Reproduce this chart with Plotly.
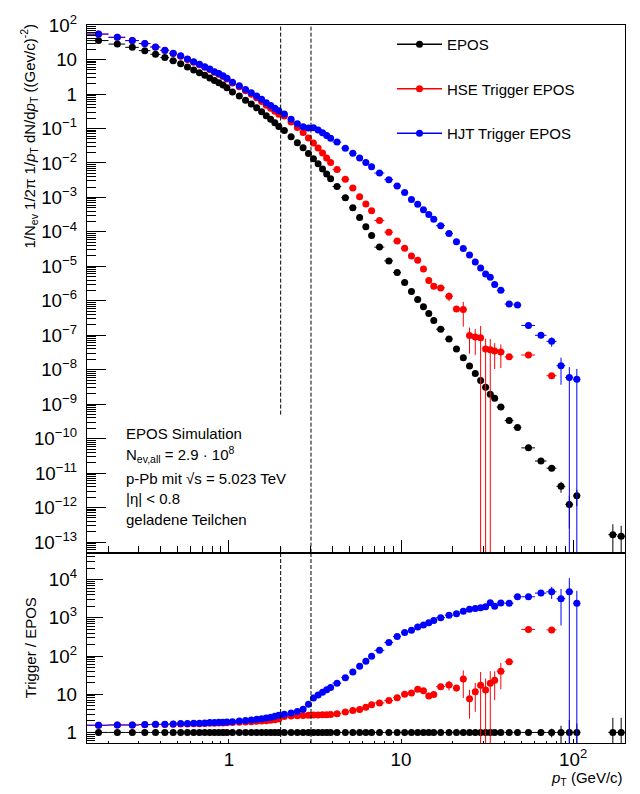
import numpy as np
import plotly.graph_objects as go

# pT binning (GeV/c)
pt_edges = [0.15, 0.2, 0.25, 0.3, 0.35, 0.4, 0.45, 0.5, 0.55, 0.6, 0.65, 0.7, 0.75, 0.8, 0.85, 0.9, 0.95, 1.0,
            1.1, 1.2, 1.3, 1.4, 1.5, 1.6, 1.7, 1.8, 1.9, 2.0,
            2.2, 2.4, 2.6, 2.8, 3.0, 3.2, 3.4, 3.6, 3.8, 4.0,
            4.5, 5.0, 5.5, 6.0, 6.5, 7.0,
            8.0, 9.0, 10.0, 11.0, 12.0, 13.0, 14.0, 15.0, 16.0,
            18.0, 20.0, 22.0, 24.0, 26.0, 28.0, 30.0, 32.0, 34.0, 36.0,
            40.0, 45.0, 50.0,
            60.0, 70.0, 80.0, 90.0, 100.0, 110.0, 120.0, 130.0, 140.0, 150.0, 160.0,
            180.0, 200.0]

# minimum-bias EPOS spectrum 1/Nev 1/2pi 1/pT dN/dpT
epos_yield = [35.5, 28.1, 22.6, 18.1, 14.2, 11.4, 9.16, 7.52, 6.04, 4.97, 4.16, 3.48, 2.93, 2.45, 2.11, 1.82, 1.52,
              1.15, 0.873, 0.664, 0.515, 0.396, 0.305, 0.234, 0.184, 0.146, 0.115,
              0.0871, 0.0575, 0.0388, 0.0274, 0.0188, 0.0132, 9.44e-3, 6.68e-3, 4.81e-3, 3.46e-3,
              2.07e-3, 9.82e-4, 5.02e-4, 2.60e-4, 1.41e-4, 7.80e-5,
              3.61e-5, 1.44e-5, 6.64e-6, 3.37e-6, 1.85e-6, 1.10e-6, 6.76e-7, 4.30e-7, 2.70e-7,
              1.50e-7, 7.74e-8, 4.01e-8, 2.22e-8, 1.28e-8, 7.74e-9, 4.88e-9, 3.08e-9, 1.94e-9, 1.49e-9,
              8.24e-10, 3.35e-10, 2.11e-10,
              5.41e-11, 2.25e-11, 1.39e-11, 4.14e-12, 1.24e-12, 2.20e-12, None, None, None, None, None,
              1.64e-13, 1.48e-13]

# triggered / minimum-bias ratios
hse_ratio = [1.55, 1.57, 1.57, 1.60, 1.61, 1.61, 1.64, 1.67, 1.67, 1.69, 1.69, 1.71, 1.74, 1.74, 1.76, 1.77, 1.79,
             1.81, 1.85, 1.87, 1.91, 1.95, 1.99, 2.03, 2.09, 2.16, 2.25,
             2.63, 2.69, 2.74, 2.79, 2.80, 2.85, 2.85, 2.90, 2.91, 2.97,
             3.09, 3.41, 3.76, 3.99, 4.58, 5.27,
             5.94, 6.82, 8.15, 9.93, 10.8, 13.6, 12.4, 9.02, 9.77,
             15.8, 17.5, 14.5, 25.1, 7.67, 11.6, 17.3, 12.9, 19.5, 23.4,
             39.8, 70.5, None,
             495, None, 483, None, None, None, None, None, None, None, None,
             None, None]

hjt_ratio = [1.54, 1.57, 1.57, 1.61, 1.64, 1.64, 1.67, 1.71, 1.71, 1.74, 1.74, 1.77, 1.81, 1.81, 1.85, 1.85, 1.88,
             1.92, 2.00, 2.04, 2.12, 2.20, 2.30, 2.38, 2.51, 2.66, 2.83,
             3.01, 3.21, 3.55, 4.06, 5.47, 8.0, 9.57, 11.2, 13.1, 15.0,
             19.5, 27.2, 38.2, 53.6, 73.5, 98.9,
             141, 227, 324, 411, 472, 577, 650, 745, 855,
             1010, 1160, 1280, 1490, 1680, 1740, 1820, 1960, 2490, 2000,
             2440, 2400, 3560,
             3560, 4430, 4790, 3160, 4790, 2400, None, None, None, None, None,
             None, None]

# relative statistical uncertainties of the spectra
epos_relerr = [0.002] * 17 + [0.002] * 10 + [0.003] * 10 + [0.005] * 6 + \
              [0.008, 0.01, 0.01, 0.012, 0.013, 0.015, 0.016, 0.018, 0.02] + \
              [0.022, 0.025, 0.028, 0.03, 0.033, 0.036, 0.04, 0.042, 0.045, 0.048] + \
              [0.05, 0.07, 0.08] + \
              [0.1, 0.12, 0.18, 0.35, 0.8, 0.5, None, None, None, None, None] + [1.0, 1.0]

hse_relerr = [0.003] * 17 + [0.003] * 10 + [0.005] * 10 + [0.01] * 6 + \
             [0.015, 0.02, 0.03, 0.04, 0.05, 0.06, 0.15, 0.17, 0.1] + \
             [0.12, 0.28, 0.18, 0.68, 0.7, 0.7, 1.2, 1.0, 1.05, 0.7] + \
             [0.66, None, 0.42] + \
             [None, 0.68, None, None, None, None, None, None, None, None, None] + [None, None]

hjt_relerr = [0.002] * 17 + [0.002] * 10 + [0.003] * 10 + [0.005] * 6 + \
             [0.006, 0.007, 0.008, 0.009, 0.01, 0.011, 0.012, 0.013, 0.015] + \
             [0.017, 0.02, 0.022, 0.025, 0.03, 0.032, 0.035, 0.04, 0.045, 0.05] + \
             [0.05, 0.06, 0.06] + \
             [0.08, 0.12, 0.3, 0.72, 1.0, 1.0, None, None, None, None, None] + [None, None]

series_names = ["EPOS", "HSE Trigger EPOS", "HJT Trigger EPOS"]
series_colors = ["#000000", "#ff0000", "#0000ff"]

cut_values = [2.0, 3.0]
cut_low_end = 5e-10

info_lines = ["EPOS Simulation",
              "N<sub>ev,all</sub> = 2.9 · 10<sup>8</sup>",
              "p-Pb mit √s = 5.023 TeV",
              "|η| < 0.8",
              "geladene Teilchen"]
info_rows_px = [428.7, 450, 475.3, 495.3, 516.3]


def as_array(values):
    return np.array([np.nan if v is None else v for v in values], dtype=float)


edges = np.array(pt_edges)
pt = 0.5 * (edges[1:] + edges[:-1])
half_width = 0.5 * (edges[1:] - edges[:-1])

epos = as_array(epos_yield)
r_hse = as_array(hse_ratio)
r_hjt = as_array(hjt_ratio)
e_epos = as_array(epos_relerr)
e_hse = as_array(hse_relerr)
e_hjt = as_array(hjt_relerr)

spectra = [epos, epos * r_hse, epos * r_hjt]
spec_rel = [e_epos, e_hse, e_hjt]
ratios = [epos / epos, r_hse, r_hjt]

FONT = "Liberation Sans, Arial, sans-serif"
fig = go.Figure()

for name, color, spec, rel, ratio in zip(series_names, series_colors, spectra, spec_rel, ratios):
    marker = dict(color=color, size=7, line=dict(width=0))
    ex = dict(type="data", array=half_width, color=color, thickness=1, width=0)
    fig.add_trace(go.Scatter(
        x=pt, y=spec, mode="markers", marker=marker, showlegend=False,
        error_x=ex,
        error_y=dict(type="data", array=spec * rel, color=color, thickness=1, width=0),
        xaxis="x", yaxis="y", name=name))
    ratio_rel = np.sqrt(rel ** 2 + e_epos ** 2)
    fig.add_trace(go.Scatter(
        x=pt, y=ratio, mode="markers", marker=marker, showlegend=False,
        error_x=ex,
        error_y=dict(type="data", array=ratio * ratio_rel, color=color, thickness=1, width=0),
        xaxis="x2", yaxis="y2", name=name))

for name, color in zip(series_names, series_colors):
    fig.add_trace(go.Scatter(
        x=[None], y=[None], mode="lines+markers", name=name, legendgroup=name,
        line=dict(color=color, width=1.5), marker=dict(color=color, size=7),
        xaxis="x", yaxis="y"))

split = (743 - 550) / 728
xrange = [np.log10(pt_edges[0]), np.log10(pt_edges[-1])]
tickfont = dict(family=FONT, size=15, color="black")

common_x = dict(type="log", range=xrange, showgrid=False, zeroline=False, showline=True,
                linecolor="black", linewidth=1, mirror=True, dtick=1, tickcolor="black")
fig.update_layout(
    xaxis=dict(common_x, anchor="y", ticks="inside", ticklen=13, showticklabels=False,
               minor=dict(ticks="inside", ticklen=7, dtick="D1", tickcolor="black", showgrid=False)),
    yaxis=dict(type="log", domain=[split, 1], range=[-13.307, 2.002], dtick=1, showgrid=False,
               zeroline=False, showline=True, linecolor="black", linewidth=1, mirror=True,
               ticks="inside", ticklen=19, tickcolor="black", exponentformat="power",
               tickfont=tickfont, ticklabelstandoff=6,
               minor=dict(ticks="inside", ticklen=9, dtick="D1", tickcolor="black", showgrid=False)),
    xaxis2=dict(common_x, anchor="y2", ticks="inside", ticklen=4, exponentformat="power",
                tickfont=tickfont, ticklabelstandoff=0,
                minor=dict(ticks="inside", ticklen=2, dtick="D1", tickcolor="black", showgrid=False)),
    yaxis2=dict(type="log", domain=[0, split], range=[-0.276, 4.705], dtick=1, showgrid=False,
                zeroline=False, showline=True, linecolor="black", linewidth=1, mirror=True,
                ticks="inside", ticklen=16, tickcolor="black", exponentformat="power",
                tickfont=tickfont, ticklabelstandoff=6,
                minor=dict(ticks="inside", ticklen=8, dtick="D1", tickcolor="black", showgrid=False)),
)

dash = dict(color="black", width=1, dash="4px,2px")
shapes = [
    dict(type="line", xref="x", yref="y", x0=cut_values[0], x1=cut_values[0], y0=cut_low_end, y1=10 ** 2.002, line=dash),
    dict(type="line", xref="x", yref="y domain", x0=cut_values[1], x1=cut_values[1], y0=0, y1=1, line=dash),
    dict(type="line", xref="x2", yref="y2 domain", x0=cut_values[0], x1=cut_values[0], y0=0, y1=1.036, line=dash),
    dict(type="line", xref="x2", yref="y2 domain", x0=cut_values[1], x1=cut_values[1], y0=0, y1=1, line=dash),
]

annotations = [
    dict(text="1/N<sub>ev</sub> 1/2π 1/<i>p</i><sub>T</sub> dN/d<i>p</i><sub>T</sub> ((Gev/c)<sup>-2</sup>)",
         xref="paper", yref="paper", x=(29 - 87) / 538, y=(743 - 12) / 728, xanchor="center", yanchor="top",
         textangle=-90, showarrow=False, font=dict(family=FONT, size=15, color="black")),
    dict(text="Trigger / EPOS", xref="paper", yref="paper", x=(30 - 87) / 538, y=(743 - 647) / 728,
         xanchor="center", yanchor="middle", textangle=-90, showarrow=False,
         font=dict(family=FONT, size=15, color="black")),
    dict(text="<i>p</i><sub>T</sub> (GeV/c)", xref="paper", yref="paper", x=1, y=(743 - 779) / 728,
         xanchor="right", yanchor="middle", showarrow=False, font=dict(family=FONT, size=15, color="black")),
]
for line, ypix in zip(info_lines, info_rows_px):
    annotations.append(dict(text=line, xref="paper", yref="paper", x=(124 - 87) / 538, y=(743 - ypix) / 728,
                            xanchor="left", yanchor="middle", showarrow=False,
                            font=dict(family=FONT, size=15, color="black")))

fig.update_layout(
    width=640, height=794, autosize=False,
    margin=dict(l=87, r=15, t=15, b=51),
    paper_bgcolor="white", plot_bgcolor="white",
    font=dict(family=FONT, size=15, color="black"),
    shapes=shapes, annotations=annotations,
    showlegend=True,
    legend=dict(x=(392 - 87) / 538, y=(743 - 18) / 728, xanchor="left", yanchor="top",
                bgcolor="rgba(0,0,0,0)", borderwidth=0, traceorder="grouped", tracegroupgap=22,
                itemwidth=45, font=dict(family=FONT, size=15, color="black")),
)

fig.write_html("out.html")
